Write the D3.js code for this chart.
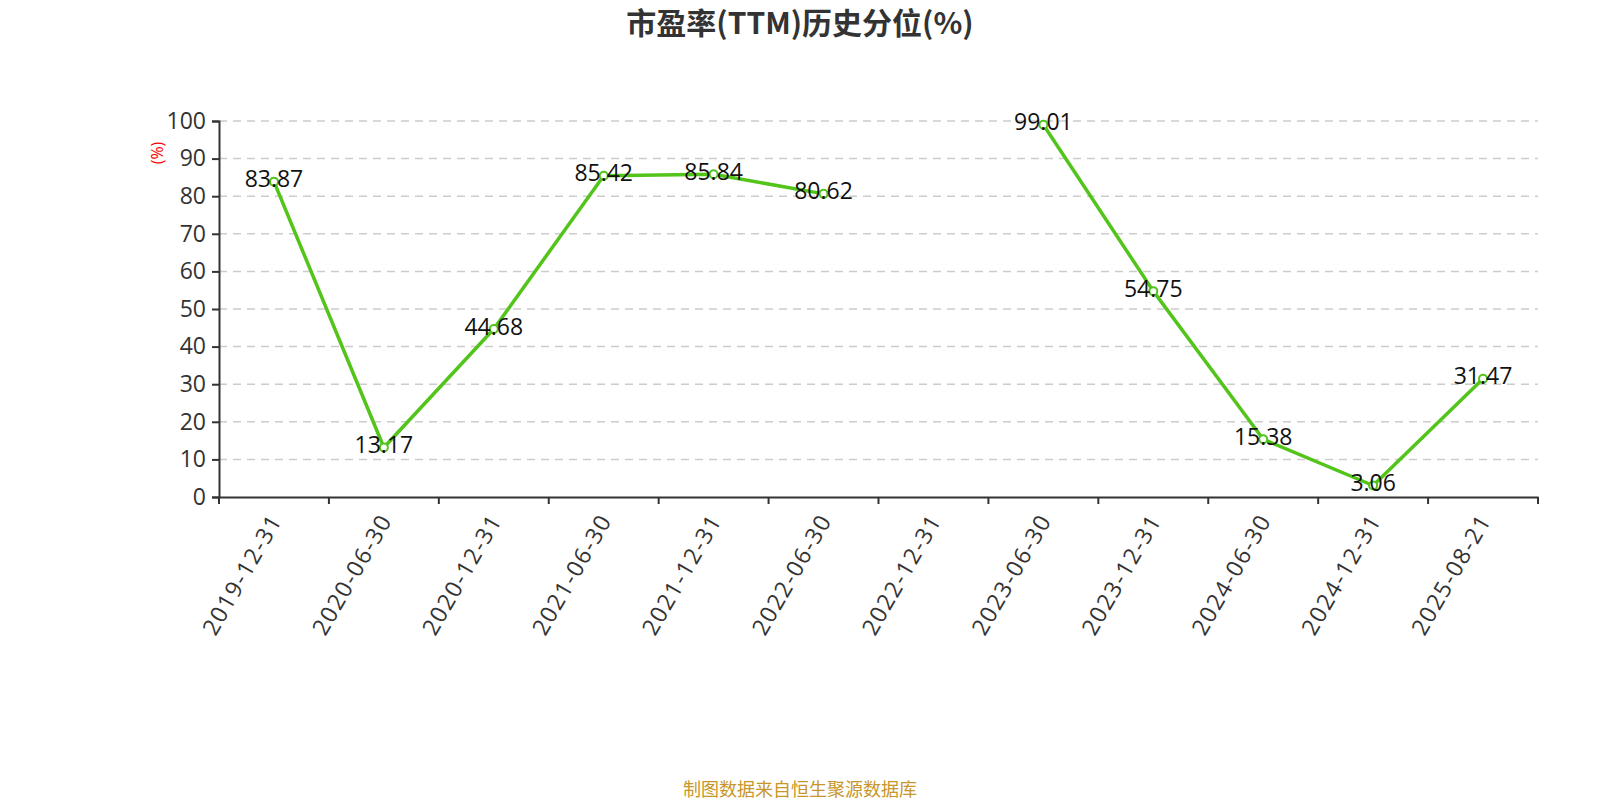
<!DOCTYPE html>
<html><head><meta charset="utf-8">
<script src="https://cdn.jsdelivr.net/npm/d3@7"></script>
<style>body{margin:0;background:#fff}svg{display:block}</style>
</head><body>
<svg id="c" width="1600" height="800"></svg>
<script>
const categories = ["2019-12-31","2020-06-30","2020-12-31","2021-06-30","2021-12-31","2022-06-30","2022-12-31","2023-06-30","2023-12-31","2024-06-30","2024-12-31","2025-08-21"];
const values = [83.87,13.17,44.68,85.42,85.84,80.62,null,99.01,54.75,15.38,3.06,31.47];
const yTicks = [0,10,20,30,40,50,60,70,80,90,100];
const title = "市盈率(TTM)历史分位(%)";
const unitLabel = "(%)";
const footer = "制图数据来自恒生聚源数据库";

const svg = d3.select("#c");
const font = "'Open Sans','Noto Sans CJK SC',sans-serif";
const L = 219, R = 1538, T = 121, B = 497;
const x = d3.scaleBand().domain(categories).range([L, R]);
const y = d3.scaleLinear().domain([0, 100]).range([B, T]);

svg.append("text").attr("x", 800).attr("y", 34).attr("text-anchor", "middle")
  .attr("font-family", "'Noto Sans CJK SC',sans-serif").attr("font-weight", "bold")
  .attr("font-size", 30).attr("fill", "#333").text(title);

// grid
svg.append("g").selectAll("line").data(yTicks.filter(d => d > 0)).join("line")
  .attr("x1", L).attr("x2", R).attr("y1", d => y(d)).attr("y2", d => y(d))
  .attr("stroke", "#ccc").attr("stroke-width", 1.5).attr("stroke-dasharray", "8,6");

// y axis
const ya = svg.append("g").attr("transform", `translate(${L},0)`)
  .call(d3.axisLeft(y).tickValues(yTicks).tickSize(7).tickPadding(6));
ya.select(".domain").attr("stroke", "#333").attr("stroke-width", 2);
ya.selectAll(".tick line").attr("stroke", "#333").attr("stroke-width", 2);
ya.selectAll("text").attr("font-family", font).attr("font-size", 23).attr("fill", "#333");

// x axis
const xa = svg.append("g").attr("transform", `translate(0,${B})`)
  .call(d3.axisBottom(x).tickSize(0).tickFormat(""));
xa.select(".domain").attr("stroke", "#333").attr("stroke-width", 2);
const bounds = categories.map(c => x(c)).concat([R]);
xa.append("g").selectAll("line").data(bounds).join("line")
  .attr("x1", d => d).attr("x2", d => d).attr("y1", 0).attr("y2", 7)
  .attr("stroke", "#333").attr("stroke-width", 2);
xa.append("g").selectAll("text").data(categories).join("text")
  .attr("transform", d => `translate(${x(d) + x.bandwidth()/2 + 2},${19}) rotate(-60)`)
  .attr("text-anchor", "end").attr("dy", "0.35em").attr("letter-spacing", 1.5)
  .attr("font-family", font).attr("font-size", 23).attr("fill", "#333").text(d => d);

svg.append("text").attr("transform", `translate(157,153) rotate(-90)`)
  .attr("text-anchor", "middle").attr("dy", "0.35em")
  .attr("font-family", font).attr("font-size", 16).attr("fill", "red").text(unitLabel);

const data = categories.map((c, i) => ({c, v: values[i]}));
const cx = d => x(d.c) + x.bandwidth()/2;
const line = d3.line().defined(d => d.v != null).x(cx).y(d => y(d.v));
svg.append("path").datum(data).attr("d", line).attr("fill", "none")
  .attr("stroke", "#52c41a").attr("stroke-width", 3.5).attr("stroke-linejoin", "round");

const pts = data.filter(d => d.v != null);
svg.append("g").selectAll("circle").data(pts).join("circle")
  .attr("cx", cx).attr("cy", d => y(d.v)).attr("r", 4)
  .attr("fill", "#fff").attr("stroke", "#52c41a").attr("stroke-width", 2);

svg.append("g").selectAll("text").data(pts).join("text")
  .attr("x", cx).attr("y", d => y(d.v) - 2).attr("dy", "0.33em").attr("text-anchor", "middle")
  .attr("font-family", font).attr("font-size", 23).attr("fill", "#111").text(d => d.v.toFixed(2));

svg.append("text").attr("x", 800).attr("y", 796).attr("text-anchor", "middle")
  .attr("font-family", "'Noto Sans CJK SC',sans-serif").attr("font-size", 18)
  .attr("fill", "#c8962a").text(footer);
</script>
</body></html>
